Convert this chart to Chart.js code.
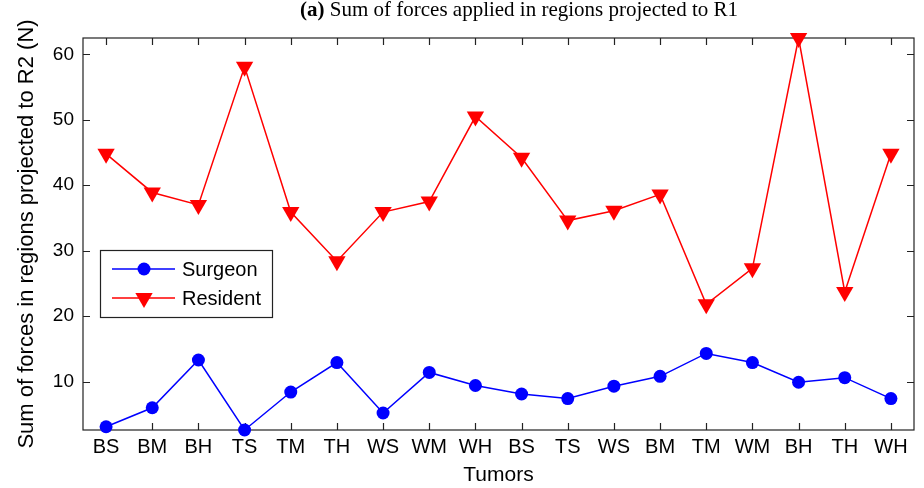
<!DOCTYPE html>
<html>
<head>
<meta charset="utf-8">
<script src="https://cdn.jsdelivr.net/npm/chart.js@4/dist/chart.umd.min.js"></script>
<style>
  html, body { margin: 0; padding: 0; background: #fff; }
  #wrap { width: 924px; height: 488px; }
</style>
</head>
<body>
<div id="wrap"><canvas id="c" width="924" height="488"></canvas></div>
<script>
// Tumor categories along the x axis
const tumors = ['BS', 'BM', 'BH', 'TS', 'TM', 'TH', 'WS', 'WM', 'WH',
                'BS', 'TS', 'WS', 'BM', 'TM', 'WM', 'BH', 'TH', 'WH'];

// Sum of forces (N) per tumor
const surgeon  = [3.1, 6.0, 13.3, 2.6, 8.4, 12.9, 5.2, 11.4, 9.4,
                  8.1, 7.4, 9.3, 10.8, 14.3, 12.9, 9.9, 10.6, 7.4];
const resident = [44.8, 38.9, 37.0, 58.1, 35.9, 28.4, 35.9, 37.5, 50.5,
                  44.2, 34.6, 36.1, 38.6, 21.8, 27.3, 62.5, 23.7, 44.8];

// Y axis ticks and limits
const yTicks = [10, 20, 30, 40, 50, 60];
const yMin = 2.6;
const yMax = 62.5;

const AXIS_FONT = 'Liberation Sans, Arial, sans-serif';
const TITLE_FONT = 'Liberation Serif, Times New Roman, serif';

// Box frame with inward-pointing ticks on all four sides
const framePlugin = {
  id: 'frame',
  beforeDatasetsDraw(chart) {
    const { ctx, chartArea: a, scales: { x, y } } = chart;
    const len = 7;
    ctx.save();
    ctx.strokeStyle = '#222';
    ctx.lineWidth = 1.2;
    ctx.strokeRect(a.left, a.top, a.right - a.left, a.bottom - a.top);
    ctx.beginPath();
    tumors.forEach((_, i) => {
      const px = Math.round(x.getPixelForValue(i)) + 0.5;
      ctx.moveTo(px, a.bottom); ctx.lineTo(px, a.bottom - len);
      ctx.moveTo(px, a.top);    ctx.lineTo(px, a.top + len);
    });
    yTicks.forEach(v => {
      const py = Math.round(y.getPixelForValue(v)) + 0.5;
      ctx.moveTo(a.left, py);  ctx.lineTo(a.left + len, py);
      ctx.moveTo(a.right, py); ctx.lineTo(a.right - len, py);
    });
    ctx.stroke();
    ctx.restore();
  }
};

// Title with a bold panel letter, and a boxed legend inside the plot
const overlayPlugin = {
  id: 'overlay',
  afterDraw(chart) {
    const { ctx } = chart;
    ctx.save();
    // title
    ctx.fillStyle = '#000';
    ctx.textBaseline = 'alphabetic';
    ctx.textAlign = 'left';
    const bold = 'bold 21px ' + TITLE_FONT;
    const reg = '21px ' + TITLE_FONT;
    const part1 = '(a)';
    const part2 = ' Sum of forces applied in regions projected to R1';
    ctx.font = bold;
    const w1 = ctx.measureText(part1).width;
    ctx.font = reg;
    const w2 = ctx.measureText(part2).width;
    const tx = 519 - (w1 + w2) / 2;
    ctx.font = bold;
    ctx.fillText(part1, tx, 16);
    ctx.font = reg;
    ctx.fillText(part2, tx + w1, 16);

    // legend
    const bx = 100, by = 250, bw = 172, bh = 67;
    ctx.fillStyle = '#fff';
    ctx.fillRect(bx, by, bw, bh);
    ctx.strokeStyle = '#222';
    ctx.lineWidth = 1.2;
    ctx.strokeRect(bx + 0.5, by + 0.5, bw, bh);
    const rows = [
      { ds: chart.data.datasets[0], y: 269 },
      { ds: chart.data.datasets[1], y: 298 }
    ];
    rows.forEach(r => {
      ctx.strokeStyle = r.ds.borderColor;
      ctx.lineWidth = r.ds.borderWidth;
      ctx.beginPath();
      ctx.moveTo(112, r.y); ctx.lineTo(175, r.y);
      ctx.stroke();
      ctx.fillStyle = r.ds.pointBackgroundColor;
      Chart.helpers.drawPoint(ctx, {
        pointStyle: r.ds.pointStyle,
        rotation: r.ds.pointRotation || 0,
        radius: r.ds.pointRadius,
        borderWidth: 0
      }, 144, r.y);
      ctx.fillStyle = '#000';
      ctx.font = '20px ' + AXIS_FONT;
      ctx.textBaseline = 'middle';
      ctx.fillText(r.ds.label, 182, r.y + 1);
    });
    ctx.restore();
  }
};

new Chart(document.getElementById('c'), {
  type: 'line',
  data: {
    labels: tumors,
    datasets: [
      {
        label: 'Surgeon',
        data: surgeon,
        borderColor: '#0000ff',
        backgroundColor: '#0000ff',
        pointBackgroundColor: '#0000ff',
        pointBorderColor: '#0000ff',
        borderWidth: 1.5,
        pointStyle: 'circle',
        pointRadius: 6.5,
        pointBorderWidth: 0,
        tension: 0,
        clip: false
      },
      {
        label: 'Resident',
        data: resident,
        borderColor: '#ff0000',
        backgroundColor: '#ff0000',
        pointBackgroundColor: '#ff0000',
        pointBorderColor: '#ff0000',
        borderWidth: 1.5,
        pointStyle: 'triangle',
        pointRotation: 180,
        pointRadius: 10,
        pointBorderWidth: 0,
        tension: 0,
        clip: false
      }
    ]
  },
  options: {
    responsive: false,
    animation: false,
    events: [],
    layout: { padding: { left: 0, right: 7, top: 38, bottom: 0 } },
    plugins: {
      legend: { display: false },
      title: { display: false },
      tooltip: { enabled: false }
    },
    scales: {
      x: {
        type: 'category',
        offset: true,
        grid: { display: false, drawTicks: false },
        border: { display: false },
        ticks: {
          autoSkip: false,
          maxRotation: 0,
          padding: 5,
          color: '#000',
          font: { family: AXIS_FONT, size: 20 }
        },
        title: {
          display: true,
          text: 'Tumors',
          color: '#000',
          font: { family: AXIS_FONT, size: 21 },
          padding: { top: 0, bottom: 0 }
        },
        afterFit(s) { s.height = 58; }
      },
      y: {
        type: 'linear',
        min: yMin,
        max: yMax,
        grid: { display: false, drawTicks: false },
        border: { display: false },
        afterBuildTicks(s) { s.ticks = yTicks.map(v => ({ value: v })); },
        ticks: {
          padding: 9,
          color: '#000',
          font: { family: AXIS_FONT, size: 19 }
        },
        title: {
          display: true,
          text: 'Sum of forces in regions projected to R2 (N)',
          color: '#000',
          font: { family: AXIS_FONT, size: 22 },
          padding: { top: 14, bottom: 0 }
        },
        afterFit(s) { s.width = 83; }
      }
    }
  },
  plugins: [framePlugin, overlayPlugin]
});
</script>
</body>
</html>
